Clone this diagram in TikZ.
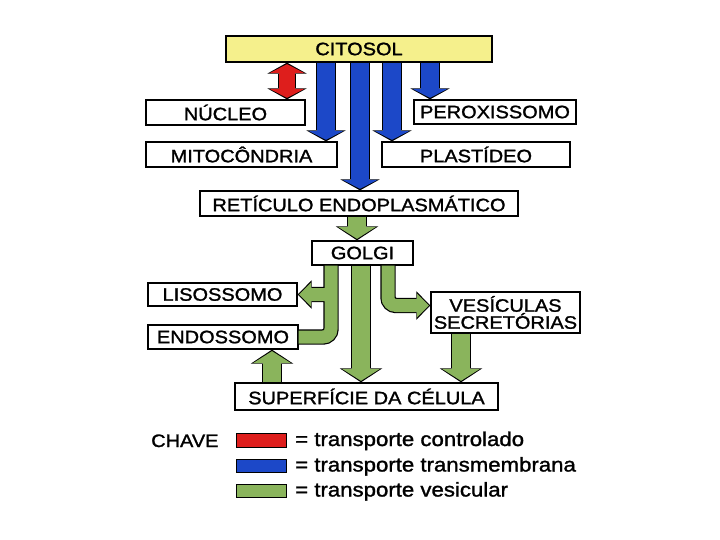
\documentclass[tikz,border=0pt]{standalone}
\usepackage{fontspec}
\usepackage{tikz}
\usetikzlibrary{arrows.meta, calc}
\newfontfamily\diagfont{Liberation Sans}[FakeStretch=1.11, FakeBold=1.4]
\definecolor{citoyellow}{RGB}{245,240,140}
\definecolor{redflux}{RGB}{222,30,28}
\definecolor{blueflux}{RGB}{28,72,200}
\definecolor{greenflux}{RGB}{138,180,92}
\tikzset{
  organelle/.style={draw, line width=1.3pt, fill=white, inner sep=2pt, minimum height=25pt,
    align=center, font=\diagfont\fontsize{18}{17}\selectfont},
  swatch/.style={draw, line width=1pt, minimum width=50pt, minimum height=13.5pt, inner sep=0pt},
  keytext/.style={anchor=base west, inner sep=0pt, font=\diagfont\fontsize{20}{22}\selectfont},
  bluefat/.style={draw=blueflux, line width=18pt, shorten >=1.5pt,
    -{Triangle[width=35pt,length=9pt,line width=0pt]},
    preaction={draw=black, line width=20.4pt, shorten >=0pt,
      -{Triangle[width=39.5pt,length=11pt,line width=0pt]}}},
  redfat/.style={draw=redflux, line width=16pt, shorten >=1.5pt, shorten <=1.5pt,
    {Triangle[width=35pt,length=9pt,line width=0pt]}-{Triangle[width=35pt,length=9pt,line width=0pt]},
    preaction={draw=black, line width=18.4pt, shorten >=0pt, shorten <=0pt,
      {Triangle[width=39.5pt,length=11pt,line width=0pt]}-{Triangle[width=39.5pt,length=11pt,line width=0pt]}}},
  greenfat/.style={draw=greenflux, line width=18pt, shorten >=1.5pt,
    -{Triangle[width=38pt,length=12pt,line width=0pt]},
    preaction={draw=black, line width=20.4pt, shorten >=0pt,
      -{Triangle[width=42.5pt,length=14pt,line width=0pt]}}},
  greenthin/.style={draw=greenflux, line width=13pt, rounded corners=8pt, shorten >=1.5pt,
    -{Triangle[width=24pt,length=12pt,line width=0pt]},
    preaction={draw=black, line width=15.4pt, shorten >=0pt,
      -{Triangle[width=28.5pt,length=14pt,line width=0pt]}}}
}
\begin{document}
\begin{tikzpicture}[x=1pt, y=-1pt]
\useasboundingbox (0,0) rectangle (720,540);

\node[organelle, fill=citoyellow, minimum width=266pt, minimum height=26pt] (citosol) at (359,49) {CITOSOL};
\node[organelle, minimum width=159pt] (nucleo) at (225.5,112.5) {NÚCLEO};
\node[organelle, minimum width=162pt, minimum height=24pt] (perox) at (495,112) {PEROXISSOMO};
\node[organelle, minimum width=191pt] (mito) at (241.5,154.5) {MITOCÔNDRIA};
\node[organelle, minimum width=188pt] (plast) at (476,154.5) {PLASTÍDEO};
\node[organelle, minimum width=318pt] (retic) at (359,203.5) {RETÍCULO ENDOPLASMÁTICO};
\node[organelle, minimum width=101pt, minimum height=24pt] (golgi) at (362.5,253) {GOLGI};
\node[organelle, minimum width=149pt, minimum height=23pt] (liso) at (222.5,294.5) {LISOSSOMO};
\node[organelle, minimum width=150pt, minimum height=24pt] (endo) at (223,337) {ENDOSSOMO};
\node[organelle, minimum width=149pt, minimum height=41pt] (vesic) at (505.5,312.5) {VESÍCULAS\\SECRETÓRIAS};
\node[organelle, minimum width=263pt, minimum height=27pt] (superf) at (366.5,396.5) {SUPERFÍCIE DA CÉLULA};

\coordinate (r1) at ([xshift=-72pt]citosol.south);
\coordinate (b1) at ([xshift=-33pt]citosol.south);
\coordinate (b2) at ([xshift=1pt]citosol.south);
\coordinate (b3) at ([xshift=33pt]citosol.south);
\coordinate (b4) at ([xshift=71pt]citosol.south);
\coordinate (g1) at ([xshift=-2pt]retic.south);
\coordinate (g2) at ([xshift=-1.5pt]golgi.south);
\coordinate (g3) at ([xshift=-31.5pt]golgi.south);
\coordinate (g4) at ([xshift=25.5pt]golgi.south);
\coordinate (g5) at ([xshift=-94.5pt]superf.north);
\coordinate (g6) at ([xshift=-44.5pt]vesic.south);

\draw[redfat] (r1) -- (r1 |- nucleo.north);
\draw[bluefat] (b1) -- (b1 |- mito.north);
\draw[bluefat] (b2) -- (b2 |- retic.north);
\draw[bluefat] (b3) -- (b3 |- plast.north);
\draw[bluefat] (b4) -- (b4 |- perox.north);
\draw[greenfat] (g1) -- (g1 |- golgi.north);
\draw[greenfat] (g2) -- (g2 |- superf.north);
\draw[greenthin] (g3) |- (endo.east) (g3 |- liso.east) -- (liso.east);
\draw[greenthin] (g4) |- ([yshift=7pt]vesic.west);
\draw[greenfat] (g5) -- (g5 |- endo.south);
\draw[greenfat] (g6) -- (g6 |- superf.north);

\node[anchor=base west, inner sep=0pt, font=\diagfont\fontsize{18}{20}\selectfont] (chave) at (151,447) {CHAVE};
\node[swatch, fill=redflux] (kred) at (261,440.5) {};
\node[swatch, fill=blueflux] (kblue) at (261,466) {};
\node[swatch, fill=greenflux] (kgreen) at (261,491) {};
\node[keytext] (tred) at (295,446) {= transporte controlado};
\node[keytext] (tblue) at (295,471.5) {= transporte transmembrana};
\node[keytext] (tgreen) at (295,496.5) {= transporte vesicular};
\end{tikzpicture}
\end{document}
